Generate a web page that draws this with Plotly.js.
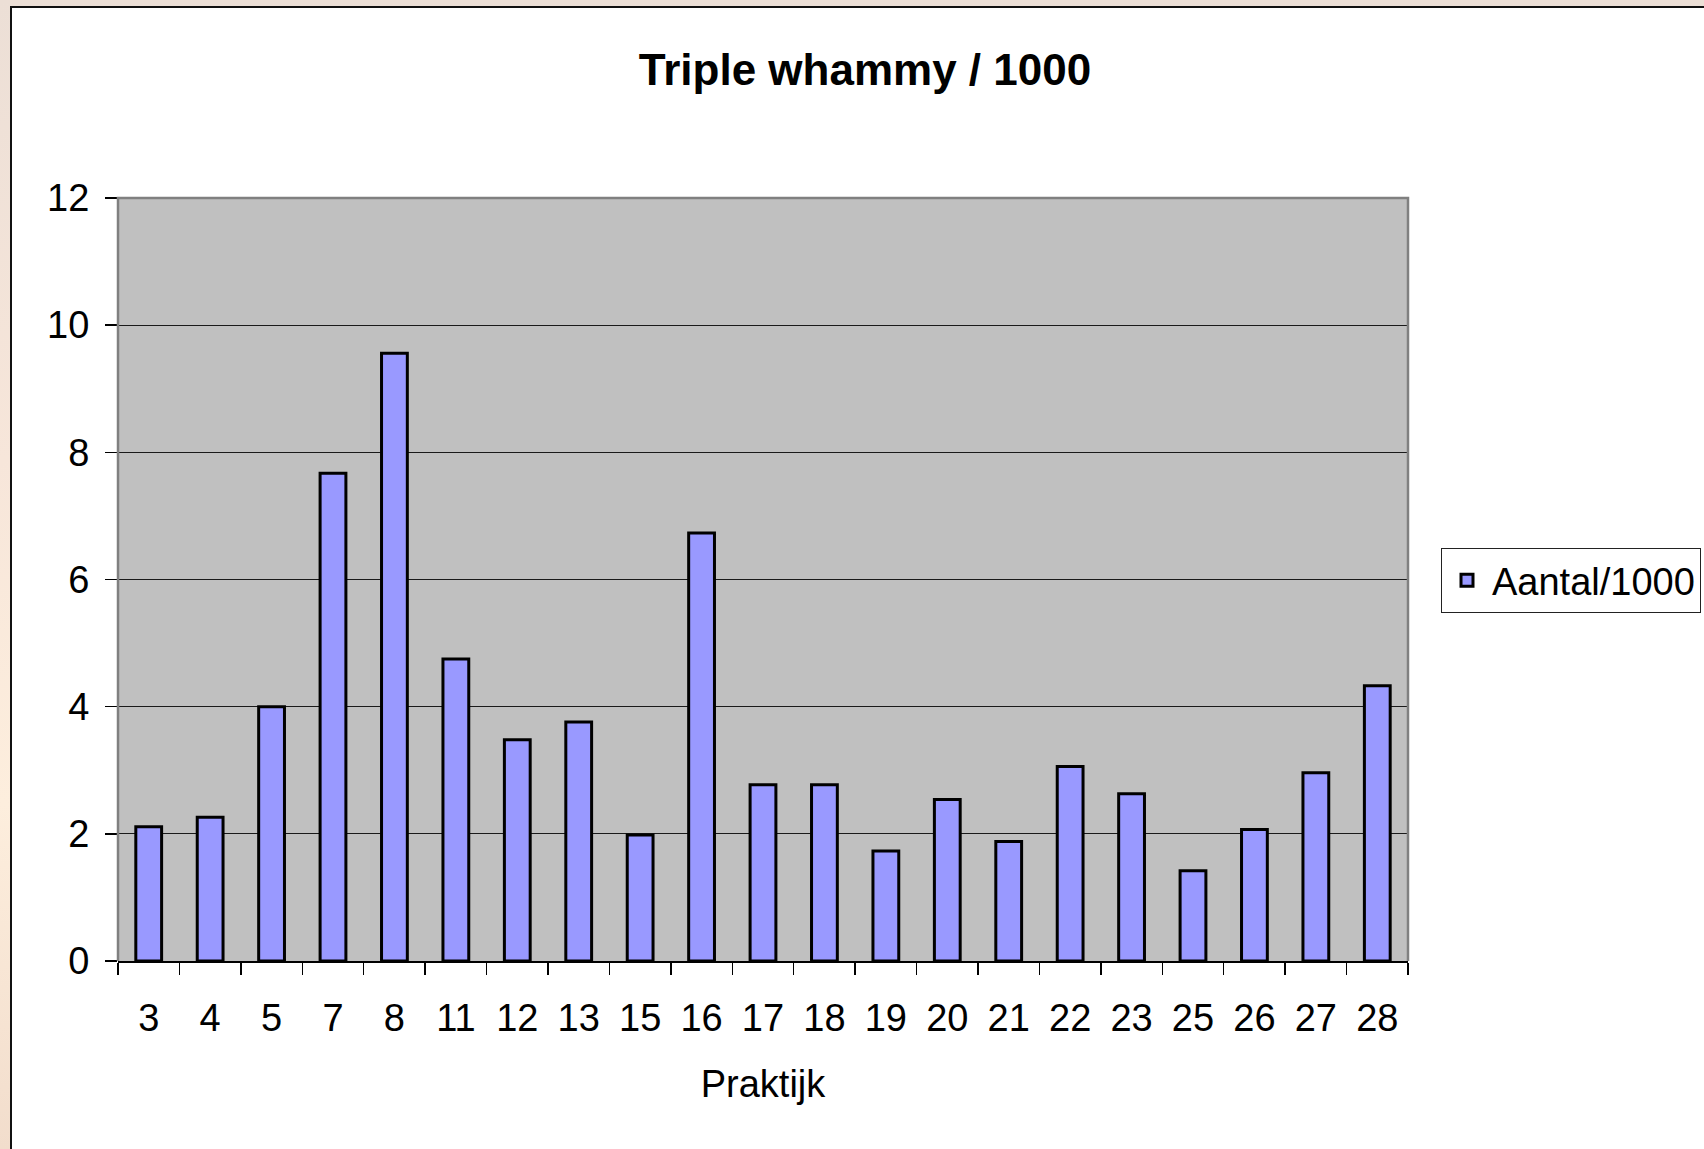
<!DOCTYPE html>
<html>
<head>
<meta charset="utf-8">
<script src="https://cdn.plot.ly/plotly-3.0.1.min.js"></script>
<style>
  html, body { margin: 0; padding: 0; width: 1704px; height: 1149px; overflow: hidden; }
  body { background: linear-gradient(to bottom, #ecdfd6 0%, #f7e6da 40%, #fdeedd 70%, #f2ddcc 100%); position: relative; }
  #frame { position: absolute; left: 10px; top: 6px; width: 1700px; height: 1150px; background: #ffffff;
           border-left: 2px solid #111; border-top: 2px solid #111; box-sizing: border-box; }
  #chart { position: absolute; left: 0; top: 0; width: 1704px; height: 1149px; }
</style>
</head>
<body>
<div id="frame"></div>
<div id="chart"></div>
<script>
// Data
const categories = ["3", "4", "5", "7", "8", "11", "12", "13", "15", "16", "17", "18", "19", "20", "21", "22", "23", "25", "26", "27", "28"];
const values = [2.11, 2.26, 4.0, 7.67, 9.56, 4.75, 3.48, 3.76, 1.98, 6.73, 2.77, 2.77, 1.73, 2.54, 1.88, 3.06, 2.63, 1.42, 2.07, 2.96, 4.33];
const seriesName = "Aantal/1000";
const chartTitle = "Triple whammy / 1000";
const xTitle = "Praktijk";
const yTickValues = [0, 2, 4, 6, 8, 10, 12];

const FONT = "Liberation Sans, Arial, sans-serif";

const trace = {
  type: "bar",
  x: categories,
  y: values,
  name: seriesName,
  showlegend: true,
  marker: { color: "#9999ff", line: { color: "#000000", width: 3 } }
};

const layout = {
  width: 1704,
  height: 1149,
  paper_bgcolor: "rgba(0,0,0,0)",
  plot_bgcolor: "#c0c0c0",
  margin: { l: 118, r: 296, t: 198, b: 188, autoexpand: false },
  font: { family: FONT, color: "#000000", size: 38 },
  title: {
    text: "<b>" + chartTitle + "</b>",
    font: { family: FONT, size: 44, color: "#000000" },
    xref: "container", yref: "container",
    x: 865 / 1704, xanchor: "center",
    y: 1 - 70 / 1149, yanchor: "middle"
  },
  bargap: 0.58,
  xaxis: {
    type: "category",
    tickson: "boundaries",
    ticks: "outside",
    ticklen: 12,
    tickwidth: 1.5,
    tickcolor: "#000000",
    showline: true,
    linecolor: "#000000",
    linewidth: 2,
    showgrid: false,
    tickfont: { family: FONT, size: 38, color: "#000000" },
    ticklabelstandoff: 22,
    title: { text: xTitle, font: { family: FONT, size: 38, color: "#000000" }, standoff: 33 },
    automargin: false
  },
  yaxis: {
    range: [0, 12],
    tickvals: yTickValues,
    ticktext: yTickValues.map(String),
    ticks: "outside",
    ticklen: 12,
    tickwidth: 1.5,
    tickcolor: "#000000",
    showline: false,
    showgrid: true,
    gridcolor: "#1a1a1a",
    gridwidth: 1,
    zeroline: false,
    tickfont: { family: FONT, size: 38, color: "#000000" },
    ticklabelstandoff: 8,
    automargin: false
  },
  shapes: [{
    type: "path",
    xref: "paper", yref: "paper",
    path: "M0,0 L0,1 L1,1 L1,0",
    line: { color: "#808080", width: 2.5 },
    layer: "above"
  }],
  legend: {
    x: (1441 - 118) / 1290,
    xanchor: "left",
    y: (961 - 548) / 763,
    yanchor: "top",
    bgcolor: "#ffffff",
    bordercolor: "#222222",
    borderwidth: 1,
    font: { family: FONT, size: 38, color: "#000000" },
    itemwidth: 40
  }
};

Plotly.newPlot("chart", [trace], layout, { staticPlot: true, displayModeBar: false });
</script>
</body>
</html>
